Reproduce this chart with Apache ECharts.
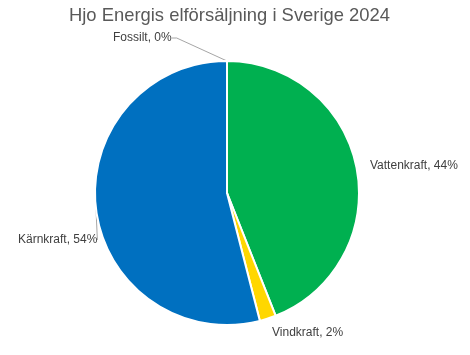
<!DOCTYPE html>
<html><head><meta charset="utf-8">
<script src="https://cdn.jsdelivr.net/npm/echarts@6/dist/echarts.min.js"></script>
<style>html,body{margin:0;padding:0;background:#fff}#c{width:470px;height:355px}</style>
</head><body><div id="c"></div>
<script>
const categories = ['Vattenkraft', 'Vindkraft', 'Kärnkraft', 'Fossilt'];
const values = [44, 2, 54, 0];
const colors = ['#00B050', '#FFD700', '#0070C0', '#A5A5A5'];
const labelPos = [[370, 166, 'left'], [272, 333, 'left'], [18, 240, 'left'], [113, 38, 'left']];

const chart = echarts.init(document.getElementById('c'), null, {renderer: 'canvas'});
chart.setOption({
  animation: false,
  backgroundColor: '#fff',
  title: {
    text: 'Hjo Energis elförsäljning i Sverige 2024',
    left: 64, top: 2,
    textStyle: {fontFamily: 'Liberation Sans', fontSize: 18.4, fontWeight: 'normal', color: '#595959'}
  },
  series: [{
    type: 'pie',
    center: [227, 193],
    radius: 132,
    startAngle: 90,
    clockwise: true,
    percentPrecision: 0,
    stillShowZeroSum: true,
    avoidLabelOverlap: false,
    itemStyle: {borderColor: '#fff', borderWidth: 2},
    label: {
      show: true,
      formatter: '{b}, {d}%',
      fontFamily: 'Liberation Sans', fontSize: 12, color: '#404040'
    },
    labelLine: {show: false, lineStyle: {color: '#A6A6A6', width: 1}, length: 5, length2: 5},
    labelLayout: function (p) {
      const lp = labelPos[p.dataIndex];
      return {x: lp[0], y: lp[1], align: lp[2], verticalAlign: 'middle'};
    },
    data: categories.map((c, i) => ({
      name: c, value: values[i],
      itemStyle: {color: colors[i]},
      labelLine: {show: i === 3 || i === 2}
    }))
  }]
});
</script></body></html>
